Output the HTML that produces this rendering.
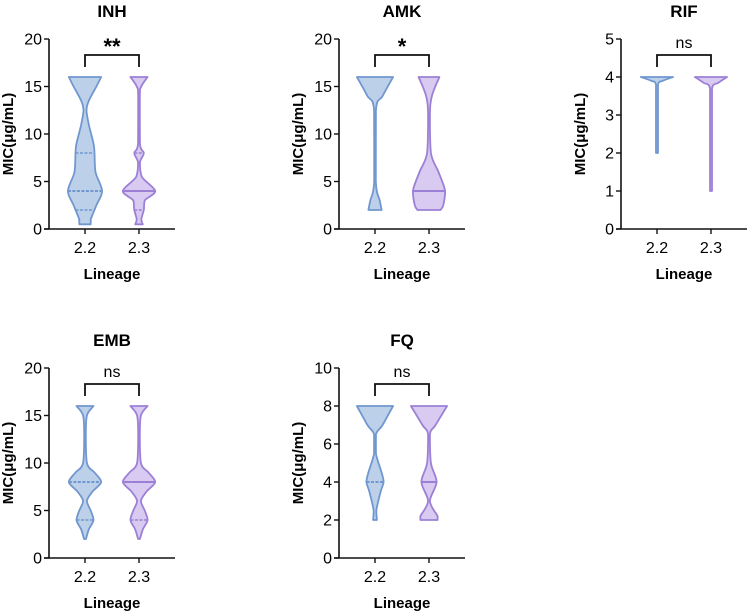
<!DOCTYPE html>
<html><head><meta charset="utf-8"><style>
body{margin:0;background:#fff;}
svg{display:block;font-family:"Liberation Sans",Arial,sans-serif;}
</style></head><body>
<svg id="c" width="749" height="611" viewBox="0 0 749 611"></svg>
<script>
const panelNames = ["INH","AMK","RIF","EMB","FQ"];
const panelYMax = [20,20,5,20,10];
const panelYStep = [5,5,1,5,2];
const categories = ["2.2","2.3"];
const sigLabels = ["**","*","ns","ns","ns"];
// density knots: [value, relative width]
const inh22 = [[16,0.85],[15,0.6],[13.5,0.2],[12.5,0.08],[11,0.2],[9,0.45],[8,0.5],[6,0.55],[4,0.9],[2.5,0.6],[1,0.3],[0.5,0.3]];
const inh23 = [[16,0.45],[15,0.12],[14,0.03],[9,0.05],[8,0.25],[7,0.05],[5.5,0.15],[4,0.85],[3,0.3],[2,0.25],[1,0.12],[0.5,0.2]];
const amk22 = [[16,0.95],[14,0.4],[12.5,0.05],[5,0.03],[3,0.25],[2,0.35]];
const amk23 = [[16,0.55],[14,0.15],[12,0.05],[8,0.1],[6,0.5],[4,0.85],[2.5,0.75],[2,0.6]];
const rif22 = [[4,0.85],[3.9,0.3],[3.8,0.05],[2,0.05]];
const rif23 = [[4,0.85],[3.85,0.4],[3.7,0.05],[1,0.05]];
const emb22 = [[16,0.45],[15,0.1],[13,0.03],[10,0.1],[9,0.5],[8,0.85],[7,0.4],[6,0.1],[5,0.3],[4,0.45],[3,0.2],[2,0.05]];
const emb23 = [[16,0.45],[15,0.1],[13,0.03],[10,0.1],[9,0.5],[8,0.85],[7,0.4],[6,0.1],[5,0.3],[4,0.45],[3,0.2],[2,0.05]];
const fq22 = [[8,0.95],[7,0.4],[6.5,0.05],[5.5,0.05],[4.5,0.35],[4,0.45],[3.5,0.3],[2.5,0.07],[2,0.1]];
const fq23 = [[8,0.95],[7,0.35],[6.5,0.05],[5,0.1],[4,0.4],[3,0.05],[2.2,0.45],[2,0.45]];
const violinData = [[inh22,inh23],[amk22,amk23],[rif22,rif23],[emb22,emb23],[fq22,fq23]];
// quartile lines: [median, q1, q3] (null = not shown)
const inhQ = [[4,2,8],[4,2,8]];
const amkQ = [[null,null,null],[4,null,null]];
const rifQ = [[null,null,null],[null,null,null]];
const embQ = [[8,4,null],[8,4,null]];
const fqQ = [[4,null,null],[4,null,null]];
const quartData = [inhQ,amkQ,rifQ,embQ,fqQ];

const NS="http://www.w3.org/2000/svg";
const svg=document.getElementById('c');
function mk(tag,attrs,parent,text){const e=document.createElementNS(NS,tag);for(const k in attrs)e.setAttribute(k,attrs[k]);if(text!=null)e.textContent=text;(parent||svg).appendChild(e);return e;}
function clamp(v,a,b){return Math.min(Math.max(v,Math.min(a,b)),Math.max(a,b));}
function smooth(pts){
  let s='';
  for(let i=0;i<pts.length-1;i++){
    const p0=pts[Math.max(i-1,0)],p1=pts[i],p2=pts[i+1],p3=pts[Math.min(i+2,pts.length-1)];
    const t=0.16;
    const c1=[clamp(p1[0]+(p2[0]-p0[0])*t,p1[0],p2[0]),clamp(p1[1]+(p2[1]-p0[1])*t,p1[1],p2[1])];
    const c2=[clamp(p2[0]-(p3[0]-p1[0])*t,p1[0],p2[0]),clamp(p2[1]-(p3[1]-p1[1])*t,p1[1],p2[1])];
    s+=`C${c1[0].toFixed(1)},${c1[1].toFixed(1)} ${c2[0].toFixed(1)},${c2[1].toFixed(1)} ${p2[0].toFixed(1)},${p2[1].toFixed(1)}`;
  }
  return s;
}
const colX=[49,339,621], rowTop=[39,368], rowBot=[229,558];
const stroke=["#7097cf","#9c80d6"], fill=["#bdd0ea","#d8caf0"];
const HW=19;
panelNames.forEach((name,p)=>{
  const col=p<3?p:p-3,row=p<3?0:1;
  const ax=colX[col], yt=rowTop[row], yb=rowBot[row];
  const xend=ax+126;
  const y=v=>yb-(v/panelYMax[p])*(yb-yt);
  const cx=i=>ax+36+i*54;
  const g=mk('g',{},svg);
  
  
  const t=mk('text',{x:ax+63,y:yt-22,'text-anchor':'middle','font-size':17,'font-weight':'bold'},g,name);
  
  const ya=mk('line',{x1:ax,y1:yt,x2:ax,y2:yb,stroke:'#111','stroke-width':1.6},g);
  
  const xa=mk('line',{x1:ax-5,y1:yb,x2:Math.min(xend,749),y2:yb,stroke:'#111','stroke-width':1.6},g);
  
  for(let v=0;v<=panelYMax[p];v+=panelYStep[p]){
    mk('line',{x1:ax-5,y1:y(v),x2:ax,y2:y(v),stroke:'#111','stroke-width':1.4},g);
    const tl=mk('text',{x:ax-7,y:y(v)+5.5,'text-anchor':'end','font-size':16},g,String(v));
    
  }
  const yt2=mk('text',{transform:`translate(${ax-36},${(yt+yb)/2}) rotate(-90)`,'text-anchor':'middle','font-size':15,'font-weight':'bold'},g,'MIC(μg/mL)');
  
  categories.forEach((c,i)=>{
    mk('line',{x1:cx(i),y1:yb,x2:cx(i),y2:yb+5,stroke:'#111','stroke-width':1.4},g);
    const xl=mk('text',{x:cx(i),y:yb+24,'text-anchor':'middle','font-size':16},g,c);
    
    const d=violinData[p][i];
    const right=d.map(k=>[cx(i)+Math.max(k[1]*HW,0.8),y(k[0])]);
    const left=d.slice().reverse().map(k=>[cx(i)-Math.max(k[1]*HW,0.8),y(k[0])]);
    const path=`M${right[0][0].toFixed(1)},${right[0][1].toFixed(1)}`+smooth(right)+`L${left[0][0].toFixed(1)},${left[0][1].toFixed(1)}`+smooth(left)+'Z';
    const v=mk('path',{d:path,fill:fill[i],stroke:stroke[i],'stroke-width':1.8,'stroke-linejoin':'round'},g);
    
    
    const q=quartData[p][i];
    const wAt=val=>{for(let j=0;j<d.length-1;j++){if(val<=d[j][0]&&val>=d[j+1][0]){const f=(d[j][0]-val)/(d[j][0]-d[j+1][0]);return (d[j][1]+f*(d[j+1][1]-d[j][1]))*HW;}}return 2;};
    q.forEach((qv,qi)=>{
      if(qv==null)return;
      const w=wAt(qv);
      const ql=mk('line',{x1:cx(i)-w,y1:y(qv),x2:cx(i)+w,y2:y(qv),stroke:stroke[i],'stroke-width':qi==0?2:1.5,'stroke-dasharray':(qi==0&&i==1)?'':'3,1.5'},g);
      
      
    });
  });
  const by=yt+16;
  const br=mk('path',{d:`M${cx(0)},${by+12}V${by}H${cx(1)}V${by+12}`,fill:'none',stroke:'#111','stroke-width':1.8},g);
  
  const ns=sigLabels[p]=='ns';
  const st=mk('text',{x:(cx(0)+cx(1))/2,y:ns?by-7:by-1,'text-anchor':'middle','font-size':ns?16:22,'font-weight':ns?'normal':'bold'},g,sigLabels[p]);
  
  const lx=mk('text',{x:ax+63,y:yb+50,'text-anchor':'middle','font-size':15,'font-weight':'bold'},g,'Lineage');
  
});
</script>
</body></html>
